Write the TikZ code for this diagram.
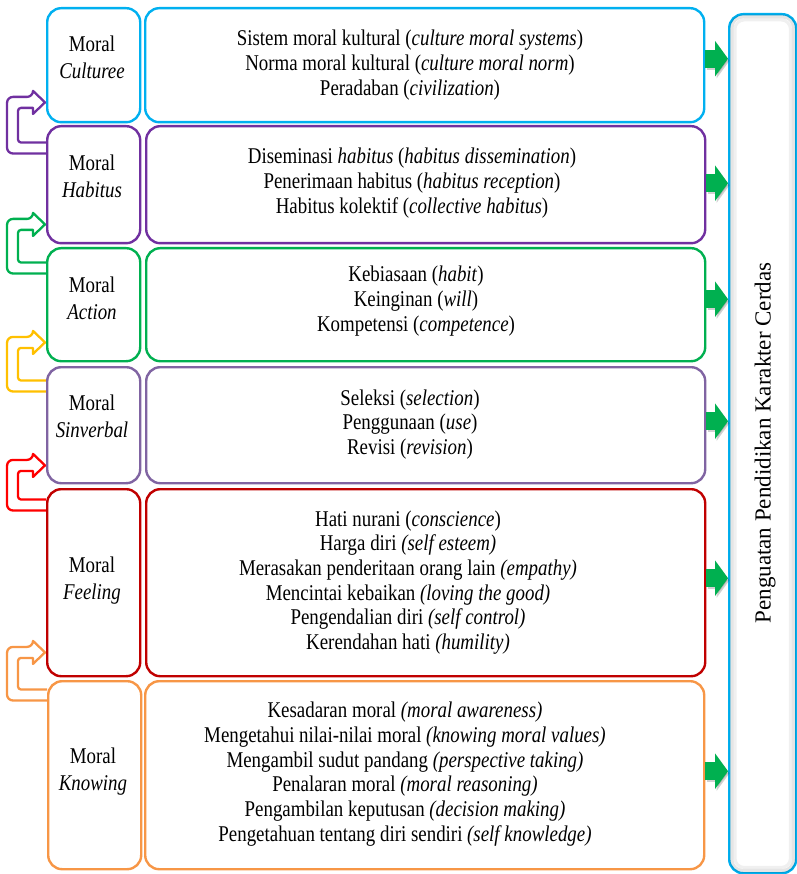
\documentclass[tikz,border=0pt]{standalone}
\usepackage{fontspec}
\setmainfont{Liberation Serif}[FakeStretch=0.84]
\newfontfamily\sidefont{Liberation Serif}
\usetikzlibrary{arrows.meta,calc}
\pgfdeclarelayer{background}
\pgfsetlayers{background,main}

\definecolor{cCul}{HTML}{00B0F0}
\definecolor{cHab}{HTML}{7030A0}
\definecolor{cAct}{HTML}{00B050}
\definecolor{cSin}{HTML}{8064A2}
\definecolor{cFee}{HTML}{C00000}
\definecolor{cKno}{HTML}{F79646}
\definecolor{cYel}{HTML}{FFC000}
\definecolor{cRed}{HTML}{FF0000}
\definecolor{cArr}{HTML}{00B050}

\tikzset{
  box/.style={draw=#1, line width=2.4pt, rounded corners=14pt, fill=white,
    anchor=north west, inner sep=0pt, minimum width=93pt},
  panel/.style={draw=#1, line width=2.4pt, rounded corners=14pt, fill=white,
    anchor=north west, inner sep=0pt, minimum width=559pt},
  body/.style={align=center, inner sep=0pt, font=\fontsize{22.5}{24.7}\selectfont},
  lbltxt/.style={align=center, inner sep=0pt, font=\fontsize{22.5}{27}\selectfont},
  blockarrow/.style={line width=18pt, draw=cArr, -{Triangle[width=35pt,length=13pt]}},
  arrowshade/.style={line width=18pt, draw=black, opacity=0.18, -{Triangle[width=35pt,length=13pt]}},
  hollow/.style={draw=#1, line width=2.3pt, fill=white, line join=round},
}

% hollow bent arrow from the left side of node #2 (offset #3 below its top)
% to the left side of node #4 (offset #5 above its bottom)
\newcommand\bentarrow[5]{%
  \draw[hollow=#1] let \p1=(#2.north west), \p2=(#4.south west) in
    [rounded corners=6pt] (\x1,\y1-#3pt-5.5pt) -- (7pt,\y1-#3pt-5.5pt)
    -- (7pt,\y2+#5pt+5.5pt) -- (33pt,\y2+#5pt+5.5pt) [sharp corners]
    -- (33pt,\y2+#5pt+11.5pt) -- (\x2-1pt,\y2+#5pt) -- (33pt,\y2+#5pt-11.5pt)
    -- (33pt,\y2+#5pt-5.5pt) [rounded corners=3pt] -- (18pt,\y2+#5pt-5.5pt)
    -- (18pt,\y1-#3pt+5.5pt) [sharp corners] -- (\x1,\y1-#3pt+5.5pt);}

\begin{document}
\begin{tikzpicture}[x=1pt,y=-1pt]
\useasboundingbox (0,0) rectangle (796,874);

% label boxes
\node[box=cCul, minimum height=114pt] (cul) at (46,7) {};
\node[box=cHab, minimum height=117pt] (hab) at (46,125) {};
\node[box=cAct, minimum height=113pt] (act) at (46,247) {};
\node[box=cSin, minimum height=116pt] (sin) at (46,366) {};
\node[box=cFee, minimum height=187pt] (fee) at (46,488) {};
\node[box=cKno, minimum height=188pt] (kno) at (47,680) {};

% content panels
\node[panel=cCul, minimum height=114pt] (culB) at (144,7) {};
\node[panel=cHab, minimum height=117pt] (habB) at (145,125) {};
\node[panel=cAct, minimum height=113pt] (actB) at (145,247) {};
\node[panel=cSin, minimum height=116pt] (sinB) at (145,366) {};
\node[panel=cFee, minimum height=187pt] (feeB) at (145,488) {};
\node[panel=cKno, minimum height=188pt] (knoB) at (144,680) {};

% outcome box with a soft inner shade
\node[draw=cCul, line width=2.4pt, rounded corners=14pt, fill=white, anchor=north west,
  inner sep=0pt, minimum width=67pt, minimum height=859pt] (main) at (728,13) {};
\draw[black, opacity=0.10, line width=4pt, rounded corners=11pt]
  ([xshift=3.5pt,yshift=-3.5pt]main.north west) rectangle ([xshift=-3.5pt,yshift=3.5pt]main.south east);
\draw[black, opacity=0.06, line width=3pt, rounded corners=9pt]
  ([xshift=7pt,yshift=-7pt]main.north west) rectangle ([xshift=-7pt,yshift=7pt]main.south east);
\node[rotate=90, inner sep=0pt, font=\sidefont\fontsize{23}{26}\selectfont] (mainT)
  at (765,443) {Penguatan Pendidikan Karakter Cerdas};

% label texts
\node[lbltxt] (culT) at (92,57) {Moral\\\textit{Culturee}};
\node[lbltxt] (habT) at (92,176) {Moral\\\textit{Habitus}};
\node[lbltxt] (actT) at (92,298) {Moral\\\textit{Action}};
\node[lbltxt] (sinT) at (92,416) {Moral\\\textit{Sinverbal}};
\node[lbltxt] (feeT) at (92,581) {Moral\\\textit{Feeling}};
\node[lbltxt] (knoT) at (93,772) {Moral\\\textit{Knowing}};

% panel texts
\node[body] (culX) at (410,65) {Sistem moral kultural (\textit{culture moral systems})\\
  Norma moral kultural (\textit{culture moral norm})\\
  Peradaban (\textit{civilization})};
\node[body] (habX) at (412,183) {Diseminasi \textit{habitus} (\textit{habitus dissemination})\\
  Penerimaan habitus (\textit{habitus reception})\\
  Habitus kolektif (\textit{collective habitus})};
\node[body] (actX) at (416,301) {Kebiasaan (\textit{habit})\\
  Keinginan (\textit{will})\\
  Kompetensi (\textit{competence})};
\node[body] (sinX) at (410,424.5) {Seleksi (\textit{selection})\\
  Penggunaan (\textit{use})\\
  Revisi (\textit{revision})};
\node[body] (feeX) at (408,582.5) {Hati nurani (\textit{conscience})\\
  Harga diri \textit{(self esteem)}\\
  Merasakan penderitaan orang lain \textit{(empathy)}\\
  Mencintai kebaikan \textit{(loving the good)}\\
  Pengendalian diri \textit{(self control)}\\
  Kerendahan hati \textit{(humility)}};
\node[body] (knoX) at (405,774) {Kesadaran moral \textit{(moral awareness)}\\
  Mengetahui nilai-nilai moral \textit{(knowing moral values)}\\
  Mengambil sudut pandang \textit{(perspective taking)}\\
  Penalaran moral \textit{(moral reasoning)}\\
  Pengambilan keputusan \textit{(decision making)}\\
  Pengetahuan tentang diri sendiri \textit{(self knowledge)}};

% green arrows into the outcome box
\foreach \n/\dy in {culB/6.5, habB/1.5, actB/5.5, sinB/4, feeB/4.5, knoB/4} {
  \draw[arrowshade] ([xshift=1.5pt,yshift=\dy pt-2pt]\n.east) -- ([xshift=1.5pt,yshift=\dy pt-2pt]\n.east -| main.west);
  \draw[blockarrow] ([yshift=\dy pt]\n.east) -- ([yshift=\dy pt]\n.east -| main.west);
}

% bent arrows between the label boxes
\begin{pgfonlayer}{background}
\bentarrow{cHab}{hab}{23}{cul}{21}
\bentarrow{cAct}{act}{21}{hab}{20}
\bentarrow{cYel}{sin}{20}{act}{20}
\bentarrow{cRed}{fee}{17}{sin}{19}
\bentarrow{cKno}{kno}{15}{fee}{25}
\end{pgfonlayer}
\end{tikzpicture}
\end{document}
